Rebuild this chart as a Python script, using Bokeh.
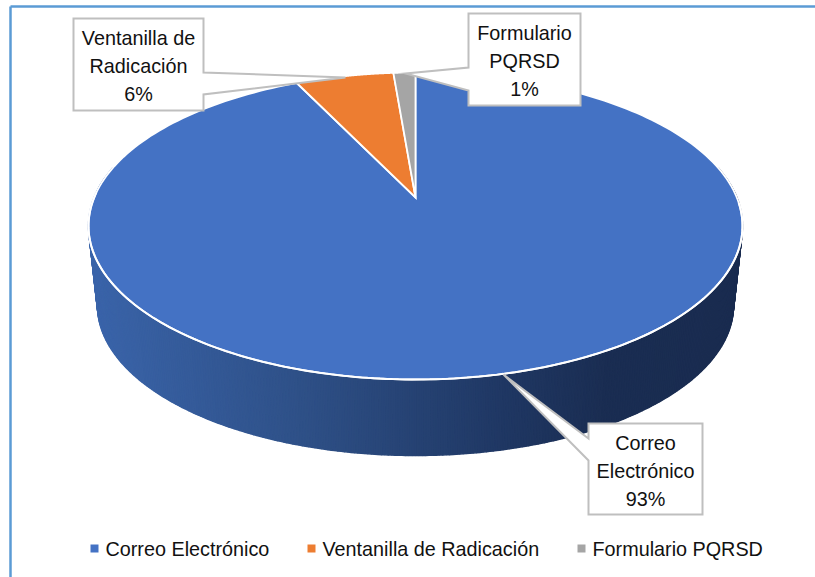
import numpy as np
from bokeh.plotting import figure
from bokeh.models import Range1d
from bokeh.core.properties import value
from bokeh.embed import file_html
from bokeh.resources import INLINE

categories = ["Correo Electrónico", "Ventanilla de Radicación", "Formulario PQRSD"]
values = [92.9, 5.8, 1.3]
colors = ["#4472C4", "#ED7D31", "#A5A5A5"]
label_lines = [["Correo", "Electrónico"], ["Ventanilla de", "Radicación"], ["Formulario", "PQRSD"]]

FONT = value("Liberation Sans")
FONT_SIZE = "19.8px"
CX, CY = 415.0, 197.0
A, B, K = 321.3, 148.2, 0.1857


def top(theta):
    u, v = np.sin(theta), np.cos(theta)
    d = 1 + K * v
    return CX + A * u / d, CY - B * v / d


def bottom(theta):
    x, y = top(theta)
    return CX + (318 / 327) * (x - CX), 305 + (150 / 153.5) * (y - 225.5)


p = figure(width=823, height=585, output_backend="svg", toolbar_location=None,
           x_range=Range1d(-8, 815), y_range=Range1d(577, -8),
           min_border=0, margin=(-8, 0, 0, -8), outline_line_color=None,
           background_fill_color="white", border_fill_color="white")
p.axis.visible = False
p.grid.visible = False

# frame of the embedded picture
p.line([10, 10], [6, 577], line_color="#5B9BD5", line_width=2.5)
p.line([10, 815], [6, 6], line_color="#5B9BD5", line_width=2.5)

# shaded side wall
edges = np.radians(np.linspace(78, 282, 401))
xs, ys, fills = [], [], []
for t0, t1 in zip(edges[:-1], edges[1:]):
    tx0, ty0 = top(t0)
    tx1, ty1 = top(t1)
    bx0, by0 = bottom(t0)
    bx1, by1 = bottom(t1)
    xs.append([tx0, tx1, bx1, bx0])
    ys.append([ty0, ty1, by1, by0])
    xm = (bx0 + bx1) / 2
    r = np.interp(xm, [90, 300, 500, 600, 745], [0x3B, 0x2F, 0x20, 0x1B, 0x1A])
    g = np.interp(xm, [90, 300, 500, 600, 745], [0x65, 0x51, 0x38, 0x2E, 0x2C])
    b = np.interp(xm, [90, 300, 500, 600, 745], [0xAB, 0x88, 0x64, 0x53, 0x50])
    fills.append("#%02X%02X%02X" % (int(r), int(g), int(b)))
p.patches(xs, ys, fill_color=fills, line_color=fills, line_width=1.5)

# top face
fractions = np.cumsum([0] + values) / sum(values)
for i, cat in enumerate(categories):
    ang = 2 * np.pi * np.linspace(fractions[i], fractions[i + 1], 240)
    rx, ry = top(ang)
    p.patch(np.r_[CX, rx], np.r_[CY, ry], fill_color=colors[i],
            line_color="white", line_width=1.8, line_join="miter")

# bright front rim
front = np.radians(np.linspace(92, 272, 200))
fx, fy = top(front)
p.line(fx, fy, line_color="white", line_width=2)

# call-outs: box, pointer tip, pointer base on the box side
boxes = [(588, 702, 423, 514), (73, 203, 18, 110), (468, 580, 13, 105)]
tips = [(503, 374), (345, 77), (405, 73)]
bases = [(438, 460), (72, 94), (67, 90)]
sides = ["left", "right", "left"]
line_ys = [(442, 470, 498), (37, 65, 93), (32, 60, 88)]
GREY = "#BFBFBF"
for i in range(3):
    x0, x1, y0, y1 = boxes[i]
    tx, ty = tips[i]
    b0, b1 = bases[i]
    if sides[i] == "left":
        cx_pts = [x0, x1, x1, x0, x0, tx, x0]
        cy_pts = [y0, y0, y1, y1, b1, ty, b0]
    else:
        cx_pts = [x0, x1, x1, tx, x1, x1, x0]
        cy_pts = [y0, y0, b0, ty, b1, y1, y1]
    p.patch(cx_pts, cy_pts, fill_color="white", line_color=GREY, line_width=2, line_join="miter")
    pct = "%d%%" % round(values[i] / sum(values) * 100)
    texts = label_lines[i] + [pct]
    cx = (x0 + x1) / 2
    p.text([cx] * 3, list(line_ys[i]), text=texts, text_font=FONT, text_font_size=FONT_SIZE,
           text_color="#111111", text_align="center", text_baseline="middle")

# legend
leg_mark_x = [94, 311, 581]
leg_text_x = [105, 322, 592]
LEG_Y = 548
p.scatter(leg_mark_x, [LEG_Y] * 3, marker="square", size=8, fill_color=colors, line_color=None)
p.text(leg_text_x, [LEG_Y] * 3, text=categories, text_font=FONT, text_font_size=FONT_SIZE,
       text_color="#111111", text_align="left", text_baseline="middle")

open("out.html", "w").write(file_html(p, INLINE))
